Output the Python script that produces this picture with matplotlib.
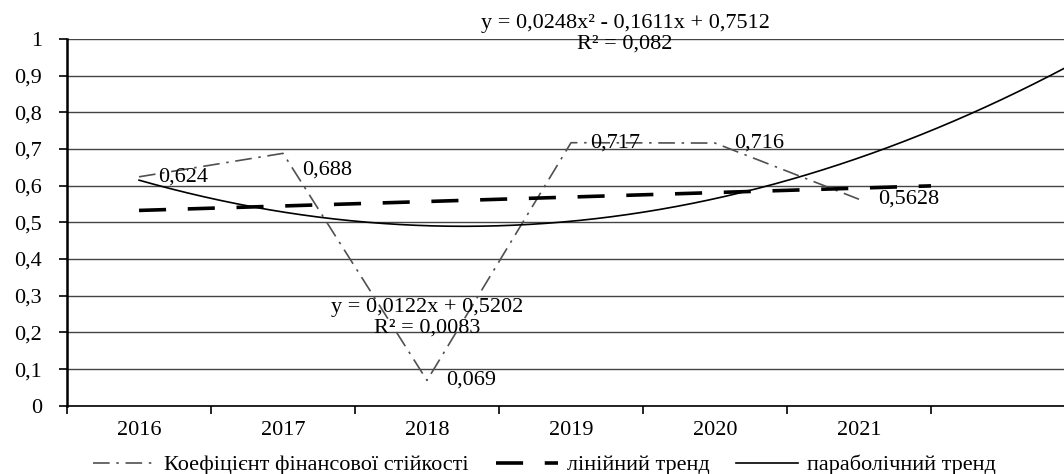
"""
Коефіцієнт фінансової стійкості з лінійним і параболічним трендами
"""
import matplotlib
matplotlib.use("Agg")
import matplotlib.pyplot as plt
import numpy as np

roky = ["2016", "2017", "2018", "2019", "2020", "2021"]
koef = [0.624, 0.688, 0.069, 0.717, 0.716, 0.5628]
pidpysy = ["0,624", "0,688", "0,069", "0,717", "0,716", "0,5628"]
rivn_lin = "y = 0,0122x + 0,5202\nR² = 0,0083"
rivn_par = "y = 0,0248x² - 0,1611x + 0,7512\nR² = 0,082"
y_tiky = [0, 0.1, 0.2, 0.3, 0.4, 0.5, 0.6, 0.7, 0.8, 0.9, 1.0]


def graficar():
    plt.rcParams['font.family'] = ['Liberation Serif', 'DejaVu Serif']
    fs = 16

    fig = plt.figure(figsize=(10.64, 4.74), dpi=100)
    ax = fig.add_axes([0.063, 0.144, 0.937, 0.774])

    x = np.arange(1, len(koef) + 1)

    # тренди рахуються з даних (як у Excel)
    c_lin = np.polyfit(x, koef, 1)
    c_par = np.polyfit(x, koef, 2)
    x_lin = np.linspace(1, len(koef) + 0.5, 50)
    x_par = np.linspace(1, len(koef) + 2.5, 200)

    ax.plot(x, koef, color='#505050', linewidth=1.2, dashes=(10, 4, 1.5, 4),
            label="Коефіцієнт фінансової стійкості", zorder=3)
    ax.plot(x_lin, np.polyval(c_lin, x_lin), color='black', linewidth=2.6,
            dashes=(7.5, 6), label="лінійний тренд", zorder=4)
    ax.plot(x_par, np.polyval(c_par, x_par), color='black', linewidth=1.2,
            label="параболічний тренд", zorder=4)

    for i, (xi, yi, t) in enumerate(zip(x, koef, pidpysy)):
        dy = -12 if i == 1 else 0  # 0,688 трохи нижче точки
        ax.annotate(t, xy=(xi, yi), xytext=(14, dy), textcoords='offset points',
                    ha='left', va='center', fontsize=fs)

    ax.text(4.375, 1.013, rivn_par, ha='center', va='center', fontsize=fs,
            linespacing=1.1)
    ax.text(3.0, 0.24, rivn_lin, ha='center', va='center', fontsize=fs,
            linespacing=1.1)

    ax.set_xlim(0.5, 0.5 + (1064 - 67) / 144)
    ax.set_ylim(0, 1)
    ax.set_yticks(y_tiky)
    ax.set_yticklabels([f"{v:.1f}".replace(".", ",") if v not in (0, 1) else str(int(v))
                        for v in y_tiky], fontsize=fs)
    ax.yaxis.grid(True, color='#444444', linewidth=1.0)
    ax.set_axisbelow(True)

    ax.set_xticks(np.arange(0.5, len(roky) + 1, 1.0))
    ax.set_xticklabels([])
    ax.set_xticks(x, minor=True)
    ax.set_xticklabels(roky, minor=True, fontsize=fs)
    ax.tick_params(axis='x', which='major', length=6, width=1.2, direction='out')
    ax.tick_params(axis='x', which='minor', length=0, pad=11)
    ax.tick_params(axis='y', length=6, width=1.2, pad=12)

    for s in ['top', 'right']:
        ax.spines[s].set_visible(False)
    ax.spines['left'].set_linewidth(1.8)
    ax.spines['bottom'].set_linewidth(1.2)

    fig.legend(loc='lower center', bbox_to_anchor=(0.512, -0.045), ncol=3,
               frameon=False, fontsize=fs, handlelength=2.8, handletextpad=0.4,
               columnspacing=1.2)

    fig.savefig("out.png", dpi=100)


graficar()
